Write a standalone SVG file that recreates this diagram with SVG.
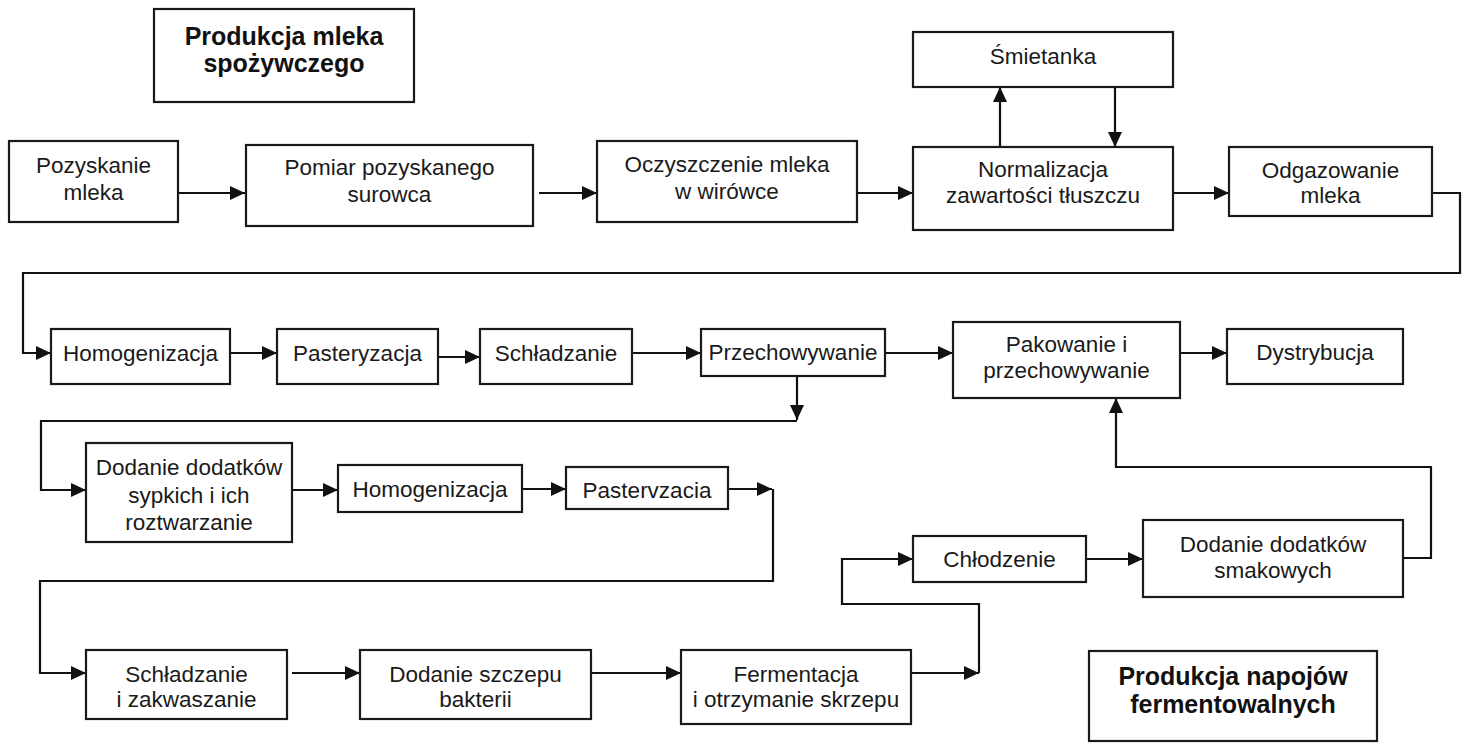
<svg xmlns="http://www.w3.org/2000/svg" width="1463" height="743" viewBox="0 0 1463 743">
<defs>
<marker id="ah" markerUnits="userSpaceOnUse" markerWidth="16" markerHeight="14" refX="15" refY="7" orient="auto">
<path d="M0,0 L15,7 L0,14 z" fill="#111"/>
</marker>
<style>
.box{fill:#fff;stroke:#1a1a1a;stroke-width:2.2}
.t{font-family:"Liberation Sans",Arial,sans-serif;font-size:22.5px;fill:#1a1a1a;text-anchor:middle}
.b{font-family:"Liberation Sans",Arial,sans-serif;font-size:25px;font-weight:bold;fill:#111;text-anchor:middle}
.c{fill:none;stroke:#111;stroke-width:2.2}
.a{marker-end:url(#ah)}
</style>
</defs>
<rect width="1463" height="743" fill="#fff"/>
<g id="connectors">
<path class="c a" d="M178,193 H245"/>
<path class="c a" d="M539,193 H597"/>
<path class="c a" d="M857,193 H913"/>
<path class="c a" d="M1000,147 V87"/>
<path class="c a" d="M1115,87 V147"/>
<path class="c a" d="M1173,193 H1229"/>
<path class="c a" d="M1432,193 H1460 V273 H23 V353 H51"/>
<path class="c a" d="M230,353 H277"/>
<path class="c a" d="M438,357 H480"/>
<path class="c a" d="M632,353 H701"/>
<path class="c a" d="M885,353 H953"/>
<path class="c a" d="M1180,353 H1227"/>
<path class="c a" d="M797,376 V420"/>
<path class="c a" d="M797,421 H41 V490 H86"/>
<path class="c a" d="M292,490 H338"/>
<path class="c a" d="M522,489 H566"/>
<path class="c a" d="M728,489 H772"/>
<path class="c a" d="M773,489 V581 H40 V673 H86"/>
<path class="c a" d="M292,673 H360"/>
<path class="c a" d="M591,673 H681"/>
<path class="c a" d="M911,673 H979"/>
<path class="c a" d="M979,673 V604 H842 V559 H913"/>
<path class="c a" d="M1086,559 H1143"/>
<path class="c a" d="M1403,558 H1431 V467 H1116 V398"/>
</g>
<g id="title1"><rect class="box" x="154" y="9" width="260" height="93"/><text class="b" x="284" y="45">Produkcja mleka</text><text class="b" x="284" y="72">spożywczego</text></g>
<g id="n_pozyskanie"><rect class="box" x="9" y="141" width="169" height="81"/><text class="t" x="93.5" y="173">Pozyskanie</text><text class="t" x="93.5" y="200">mleka</text></g>
<g id="n_pomiar"><rect class="box" x="246" y="145" width="287" height="81"/><text class="t" x="389.5" y="175">Pomiar pozyskanego</text><text class="t" x="389.5" y="202">surowca</text></g>
<g id="n_oczyszczenie"><rect class="box" x="597" y="141" width="260" height="81"/><text class="t" x="727" y="172">Oczyszczenie mleka</text><text class="t" x="727" y="199">w wirówce</text></g>
<g id="n_smietanka"><rect class="box" x="913" y="32" width="260" height="55"/><text class="t" x="1043" y="64">Śmietanka</text></g>
<g id="n_normalizacja"><rect class="box" x="913" y="147" width="260" height="83"/><text class="t" x="1043" y="177">Normalizacja</text><text class="t" x="1043" y="203">zawartości tłuszczu</text></g>
<g id="n_odgazowanie"><rect class="box" x="1229" y="147" width="203" height="69"/><text class="t" x="1330.5" y="178">Odgazowanie</text><text class="t" x="1330.5" y="203">mleka</text></g>
<g id="n_homog1"><rect class="box" x="51" y="329" width="179" height="55"/><text class="t" x="140.5" y="361">Homogenizacja</text></g>
<g id="n_past1"><rect class="box" x="277" y="329" width="161" height="55"/><text class="t" x="357.5" y="361">Pasteryzacja</text></g>
<g id="n_schl1"><rect class="box" x="480" y="329" width="152" height="55"/><text class="t" x="556" y="361">Schładzanie</text></g>
<g id="n_przech"><rect class="box" x="701" y="329" width="184" height="47"/><text class="t" x="793" y="360">Przechowywanie</text></g>
<g id="n_pakowanie"><rect class="box" x="953" y="322" width="227" height="76"/><text class="t" x="1066.5" y="352">Pakowanie i</text><text class="t" x="1066.5" y="378">przechowywanie</text></g>
<g id="n_dystr"><rect class="box" x="1227" y="329" width="176" height="55"/><text class="t" x="1315" y="360">Dystrybucja</text></g>
<g id="n_dodanie1"><rect class="box" x="86" y="443" width="206" height="99"/><text class="t" x="189" y="475">Dodanie dodatków</text><text class="t" x="189" y="503">sypkich i ich</text><text class="t" x="189" y="530">roztwarzanie</text></g>
<g id="n_homog2"><rect class="box" x="338" y="465" width="184" height="47"/><text class="t" x="430" y="497">Homogenizacja</text></g>
<g id="n_past2"><rect class="box" x="566" y="467" width="162" height="42"/><text class="t" x="647" y="498">Pastervzacia</text></g>
<g id="n_schl2"><rect class="box" x="86" y="650" width="201" height="69"/><text class="t" x="186.5" y="682">Schładzanie</text><text class="t" x="186.5" y="707">i zakwaszanie</text></g>
<g id="n_szczep"><rect class="box" x="360" y="650" width="231" height="69"/><text class="t" x="475.5" y="682">Dodanie szczepu</text><text class="t" x="475.5" y="707">bakterii</text></g>
<g id="n_ferm"><rect class="box" x="681" y="650" width="230" height="74"/><text class="t" x="796" y="682">Fermentacja</text><text class="t" x="796" y="707">i otrzymanie skrzepu</text></g>
<g id="n_chlodz"><rect class="box" x="913" y="536" width="173" height="46"/><text class="t" x="999.5" y="567">Chłodzenie</text></g>
<g id="n_smak"><rect class="box" x="1143" y="520" width="260" height="77"/><text class="t" x="1273" y="552">Dodanie dodatków</text><text class="t" x="1273" y="578">smakowych</text></g>
<g id="title2"><rect class="box" x="1089" y="651" width="288" height="90"/><text class="b" x="1233" y="685">Produkcja napojów</text><text class="b" x="1233" y="713">fermentowalnych</text></g>
</svg>
